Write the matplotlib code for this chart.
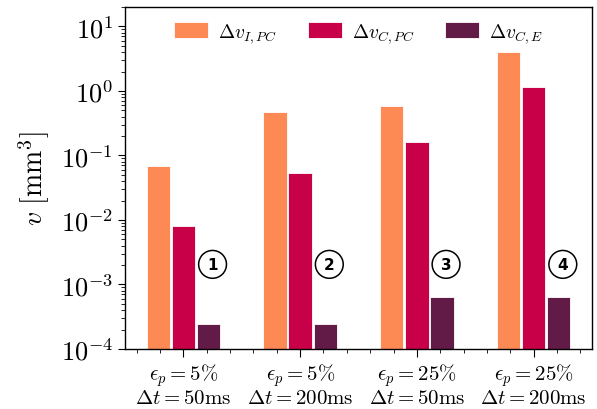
import matplotlib
matplotlib.use("Agg")
import matplotlib.pyplot as plt
import numpy as np
from matplotlib.ticker import MultipleLocator, LogLocator

plt.rcParams["mathtext.fontset"] = "cm"
plt.rcParams["font.family"] = "serif"
plt.rcParams["font.serif"] = ["cmr10", "DejaVu Serif"]
plt.rcParams["axes.formatter.use_mathtext"] = True

# 数据
cases = [
    r"$\epsilon_p = 5\%$" + "\n" + r"$\Delta t = 50\mathrm{ms}$",
    r"$\epsilon_p = 5\%$" + "\n" + r"$\Delta t = 200\mathrm{ms}$",
    r"$\epsilon_p = 25\%$" + "\n" + r"$\Delta t = 50\mathrm{ms}$",
    r"$\epsilon_p = 25\%$" + "\n" + r"$\Delta t = 200\mathrm{ms}$",
]
dv_i_pc = [0.068, 0.47, 0.58, 4.0]
dv_c_pc = [0.0081, 0.053, 0.16, 1.15]
dv_c_e = [2.4e-4, 2.4e-4, 6.3e-4, 6.3e-4]
series_labels = [r"$\Delta v_{I,PC}$", r"$\Delta v_{C,PC}$", r"$\Delta v_{C,E}$"]
marks = ["1", "2", "3", "4"]
colors = ["#FD8A55", "#C70048", "#621A47"]

fig = plt.figure(figsize=(5.97, 4.10), dpi=100)
ax = fig.add_axes([125 / 597, 60 / 410, 467 / 597, 342 / 410])

x = np.arange(len(cases))
offset = 0.215
width = 0.2
for k, vals in enumerate([dv_i_pc, dv_c_pc, dv_c_e]):
    ax.bar(x + (k - 1) * offset, vals, width=width, color=colors[k],
           edgecolor="white", linewidth=0.6, label=series_labels[k])

# 圆圈编号
for i, m in enumerate(marks):
    ax.text(x[i] + 0.25, 2.05e-3, m, ha="center", va="center",
            fontsize=11, fontweight="bold", family="DejaVu Sans",
            bbox=dict(boxstyle="circle,pad=0.42", fc="white", ec="black", lw=1.1))

ax.set_yscale("log")
ax.set_ylim(1e-4, 20)
ax.set_xlim(-0.5, 3.5)
ax.set_xticks(x)
ax.set_xticklabels(cases, fontsize=15, linespacing=1.05)
ax.xaxis.set_minor_locator(MultipleLocator(0.2))
ax.yaxis.set_major_locator(LogLocator(base=10, numticks=10))
ax.yaxis.set_minor_locator(LogLocator(base=10, subs=np.arange(2, 10) * 0.1 * 10, numticks=20))
ax.tick_params(axis="y", which="major", labelsize=19, length=5)
ax.tick_params(axis="x", which="major", length=6, pad=3)
ax.tick_params(which="minor", length=3)
ax.set_ylabel(r"$v\ [\mathrm{mm}^3]$", fontsize=20, labelpad=6)

for s in ax.spines.values():
    s.set_linewidth(1.0)

ax.legend(loc="upper center", ncol=3, frameon=False, fontsize=14,
          handlelength=1.75, handleheight=0.85, handletextpad=0.5,
          columnspacing=1.6, bbox_to_anchor=(0.5, 1.01))

fig.savefig("out.png", dpi=100)
